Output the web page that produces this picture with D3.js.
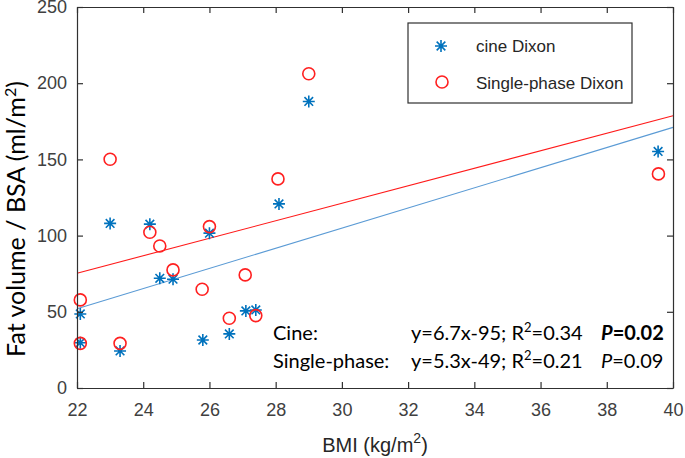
<!DOCTYPE html>
<html>
<head>
<meta charset="utf-8">
<script src="https://cdn.jsdelivr.net/npm/d3@7"></script>
<style>
body { margin: 0; background: #fff; }
</style>
</head>
<body>
<div id="chart"></div>
<script>
// cine Dixon
const bmiCine = [23.0, 24.2, 26.0, 24.5, 24.9, 22.1, 22.1, 23.3, 25.8, 26.6, 27.1, 27.4, 28.1, 29.0, 39.55];
const fatCine = [108, 107.5, 101.6, 72, 71.4, 48.6, 29.7, 24.3, 31.5, 35.5, 50.6, 51.2, 120.8, 188, 155.2];
// single-phase Dixon
const bmiSingle = [23.0, 28.07, 29.0, 24.2, 24.5, 26.0, 24.9, 27.08, 25.78, 22.1, 22.1, 23.3, 26.6, 27.4, 39.56];
const fatSingle = [150.1, 137.2, 206.2, 102.2, 93.2, 105.9, 77.5, 74.2, 64.8, 57.8, 29.3, 29.3, 45.8, 47.5, 140.5];
// fitted lines, read at the two ends of the x range
const fitX = [22, 40];
const fitCine = [52, 171];
const fitSingle = [75.3, 178.6];

const xTicks = [22, 24, 26, 28, 30, 32, 34, 36, 38, 40];
const yTicks = [0, 50, 100, 150, 200, 250];

const width = 685, height = 458;
const margin = {top: 7, right: 12, bottom: 70, left: 77};

const blue = "#0072bd";
const red = "#ff2020";

const svg = d3.select("#chart")
	.append("svg")
		.attr("width", width)
		.attr("height", height);

let x = d3.scaleLinear().domain([22, 40]).range([margin.left, width - margin.right]);
let y = d3.scaleLinear().domain([0, 250]).range([height - margin.bottom, margin.top]);

// fit lines
let line = d3.line()
	.x(d => x(d[0]))
	.y(d => y(d[1]));

svg.append("path")
	.attr("d", line(d3.zip(fitX, fitSingle)))
	.attr("fill", "none")
	.attr("stroke", "#ff1a1a")
	.attr("stroke-width", 1.1);

svg.append("path")
	.attr("d", line(d3.zip(fitX, fitCine)))
	.attr("fill", "none")
	.attr("stroke", "#5b9bd5")
	.attr("stroke-width", 1.1);

// asterisk marker like matlab '*'
let star = (cx, cy, r) => {
	let d = r * 0.72;
	return "M" + (cx - r) + "," + cy + "H" + (cx + r) +
		"M" + cx + "," + (cy - r) + "V" + (cy + r) +
		"M" + (cx - d) + "," + (cy - d) + "L" + (cx + d) + "," + (cy + d) +
		"M" + (cx - d) + "," + (cy + d) + "L" + (cx + d) + "," + (cy - d);
};

svg.append("g")
	.selectAll("path")
	.data(d3.zip(bmiCine, fatCine))
	.enter()
		.append("path")
		.attr("d", d => star(x(d[0]), y(d[1]), 6))
		.attr("stroke", blue)
		.attr("stroke-width", 1.6)
		.attr("fill", "none");

svg.append("g")
	.selectAll("circle")
	.data(d3.zip(bmiSingle, fatSingle))
	.enter()
		.append("circle")
		.attr("cx", d => x(d[0]))
		.attr("cy", d => y(d[1]))
		.attr("r", 6)
		.attr("stroke", red)
		.attr("stroke-width", 1.6)
		.attr("fill", "none");

// axes, matlab box style with inward ticks
let styleAxis = g => {
	g.selectAll("path.domain").attr("stroke", "#303030").attr("stroke-width", 1.2);
	g.selectAll(".tick line").attr("stroke", "#303030").attr("stroke-width", 1.2);
	g.selectAll("text")
		.attr("fill", "#404040")
		.style("font-family", "'Liberation Sans', Arial, sans-serif")
		.style("font-size", "18px");
};

svg.append("g")
	.attr("transform", "translate(0," + y(0) + ")")
	.call(d3.axisBottom(x).tickValues(xTicks).tickSizeInner(-6).tickSizeOuter(0).tickPadding(15))
	.call(styleAxis);

svg.append("g")
	.attr("transform", "translate(0," + y(250) + ")")
	.call(d3.axisTop(x).tickValues(xTicks).tickSizeInner(-6).tickSizeOuter(0).tickFormat(""))
	.call(styleAxis);

svg.append("g")
	.attr("transform", "translate(" + x(22) + ",0)")
	.call(d3.axisLeft(y).tickValues(yTicks).tickSizeInner(-6).tickSizeOuter(0).tickPadding(10))
	.call(styleAxis);

svg.append("g")
	.attr("transform", "translate(" + x(40) + ",0)")
	.call(d3.axisRight(y).tickValues(yTicks).tickSizeInner(-6).tickSizeOuter(0).tickFormat(""))
	.call(styleAxis);

// axis titles
let xTitle = svg.append("text")
	.attr("x", (x(22) + x(40)) / 2)
	.attr("y", 452)
	.attr("text-anchor", "middle")
	.attr("fill", "#262626")
	.style("font-family", "'Liberation Sans', Arial, sans-serif")
	.style("font-size", "20px");
xTitle.append("tspan").text("BMI (kg/m");
xTitle.append("tspan").attr("dy", -9).style("font-size", "14px").text("2");
xTitle.append("tspan").attr("dy", 9).text(")");

let yTitle = svg.append("text")
	.attr("transform", "translate(25," + 219 + ") rotate(-90)")
	.attr("text-anchor", "middle")
	.attr("fill", "#000")
	.style("font-family", "Lato, 'Open Sans', sans-serif")
	.style("font-size", "25px");
yTitle.append("tspan").text("Fat volume / BSA (ml/m");
yTitle.append("tspan").attr("dy", -9).style("font-size", "16px").text("2");
yTitle.append("tspan").attr("dy", 9).text(")");

// legend
let legend = svg.append("g");
legend.append("rect")
	.attr("x", 408).attr("y", 23)
	.attr("width", 224).attr("height", 80)
	.attr("fill", "#fff")
	.attr("stroke", "#303030")
	.attr("stroke-width", 1.2);
legend.append("path")
	.attr("d", star(441, 46, 6))
	.attr("stroke", blue).attr("stroke-width", 1.6);
legend.append("circle")
	.attr("cx", 442).attr("cy", 82).attr("r", 6)
	.attr("stroke", red).attr("stroke-width", 1.6).attr("fill", "none");
legend.selectAll("text")
	.data(["cine Dixon", "Single-phase Dixon"])
	.enter()
		.append("text")
		.attr("x", 476)
		.attr("y", (d, i) => 52 + i * 37)
		.attr("fill", "#262626")
		.style("font-family", "'Liberation Sans', Arial, sans-serif")
		.style("font-size", "17px")
		.text(d => d);

// regression annotation
let note = svg.append("g")
	.style("font-family", "Lato, 'Open Sans', sans-serif")
	.style("font-size", "20px")
	.attr("fill", "#000");

let rows = [
	{name: "Cine:", eq: "y=6.7x-95; R", r2: "=0.34", p: "=0.02", bold: true, y: 340},
	{name: "Single-phase:", eq: "y=5.3x-49; R", r2: "=0.21", p: "=0.09", bold: false, y: 368}
];

rows.forEach(r => {
	note.append("text").attr("x", 273).attr("y", r.y).text(r.name);
	let t = note.append("text").attr("x", 411).attr("y", r.y);
	t.append("tspan").text(r.eq);
	t.append("tspan").attr("dy", -8).style("font-size", "13px").text("2");
	t.append("tspan").attr("dy", 8).text(r.r2);
	let p = note.append("text").attr("x", 601).attr("y", r.y)
		.style("font-weight", r.bold ? "bold" : "normal");
	p.append("tspan").style("font-style", "italic").text("P");
	p.append("tspan").text(r.p);
});
</script>
</body>
</html>
